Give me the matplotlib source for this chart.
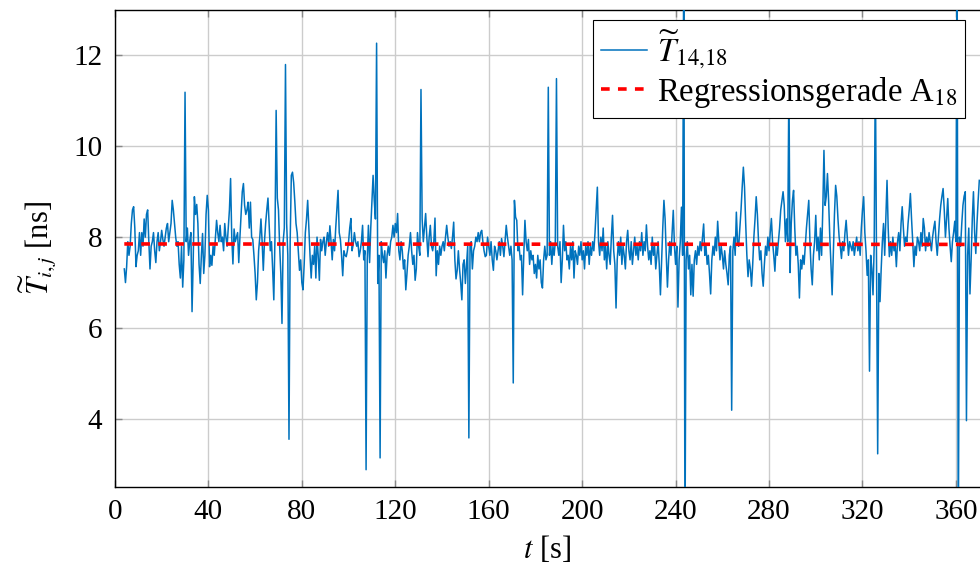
import numpy as np
import matplotlib
matplotlib.use("Agg")
import matplotlib.pyplot as plt

plt.rcParams['font.family'] = ['Liberation Serif', 'DejaVu Serif']
plt.rcParams['mathtext.fontset'] = 'stix'

# sampling of the series
t_start = 4.0
t_step = 0.5

# measured values (rows of 10 s each)
values = [
    7.3, 7.0, 7.35, 7.9, 7.6, 7.8, 8.3, 8.6, 8.67, 8.2, 7.35, 7.6, 7.7, 8.1, 7.6, 8.1, 7.8, 8.4, 8.0, 8.5,
    8.6, 7.9, 7.3, 7.8, 7.9, 8.1, 7.7, 7.44, 7.9, 8.1, 7.7, 7.9, 8.15, 7.95, 7.8, 8.0, 8.2, 8.3, 7.9, 8.1,
    8.3, 8.81, 8.6, 8.3, 8.0, 7.8, 7.9, 7.4, 7.1, 7.8, 6.9, 7.5, 11.19, 7.9, 8.2, 7.6, 7.9, 8.1, 6.36, 7.5,
    8.89, 8.5, 8.72, 8.3, 7.4, 6.98, 7.6, 8.08, 7.2, 7.6, 8.5, 8.92, 8.6, 7.35, 7.6, 7.38, 7.8, 7.6, 8.0, 8.37,
    8.1, 7.9, 8.26, 7.9, 8.0, 7.7, 8.3, 8.0, 7.8, 8.2, 8.6, 9.29, 8.0, 7.41, 8.18, 7.9, 8.0, 8.1, 7.44, 8.0,
    8.5, 9.0, 9.18, 8.7, 8.5, 8.6, 8.77, 8.2, 8.77, 8.0, 7.95, 7.6, 7.2, 6.62, 7.0, 7.7, 8.0, 8.4, 7.9, 7.27,
    7.9, 8.3, 8.6, 8.86, 8.3, 7.7, 7.9, 7.3, 6.62, 8.0, 10.79, 8.86, 8.6, 7.8, 7.2, 6.1, 7.9, 8.2, 11.8, 8.3,
    7.6, 3.55, 7.9, 9.36, 9.43, 9.2, 8.78, 8.3, 8.1, 7.7, 7.27, 7.5, 7.0, 6.84, 7.4, 8.1, 8.4, 8.81, 8.2, 7.6,
    7.1, 7.6, 7.4, 7.8, 7.1, 8.0, 7.6, 7.05, 7.95, 7.7, 7.9, 8.0, 7.6, 7.9, 8.1, 7.8, 8.25, 7.9, 7.5, 7.95,
    7.7, 8.2, 8.6, 9.03, 8.1, 7.95, 7.6, 7.15, 7.7, 7.6, 7.57, 7.7, 7.9, 8.2, 8.41, 7.7, 7.85, 8.1, 7.9, 7.8,
    7.9, 7.57, 7.7, 7.9, 8.26, 7.5, 7.7, 2.88, 7.5, 8.26, 7.44, 8.2, 8.8, 9.36, 8.8, 8.4, 12.27, 6.98, 7.6, 3.14,
    7.9, 7.6, 7.44, 7.7, 7.1, 7.6, 7.8, 7.6, 7.9, 8.0, 8.26, 8.0, 8.3, 8.1, 8.52, 7.7, 7.5, 7.9, 7.7, 7.3,
    7.5, 6.84, 7.2, 7.6, 7.8, 8.1, 7.7, 7.4, 7.6, 7.05, 7.3, 8.1, 7.8, 7.6, 11.25, 8.4, 7.9, 8.2, 8.52, 8.0,
    7.57, 8.0, 8.26, 7.8, 7.7, 7.9, 8.42, 7.15, 7.7, 7.4, 7.8, 7.6, 7.8, 7.9, 7.7, 8.0, 8.26, 8.0, 7.8, 7.9,
    7.75, 8.0, 8.33, 7.5, 7.08, 7.27, 7.7, 7.3, 7.0, 6.62, 7.4, 7.5, 6.98, 7.4, 7.8, 3.58, 7.8, 7.9, 7.3, 7.7,
    7.8, 8.0, 7.9, 8.1, 7.9, 8.1, 8.15, 7.9, 7.7, 7.57, 7.6, 8.0, 7.8, 7.6, 7.9, 7.5, 7.27, 7.8, 7.7, 7.5,
    7.7, 7.9, 7.6, 7.97, 7.8, 7.57, 7.9, 8.26, 8.0, 7.8, 7.6, 7.8, 7.5, 4.79, 8.81, 8.44, 8.37, 7.7, 7.8, 7.5,
    7.6, 6.73, 7.6, 8.37, 7.9, 7.7, 7.95, 7.4, 7.7, 7.5, 7.6, 7.2, 7.4, 7.1, 7.6, 7.3, 7.5, 7.0, 6.88, 7.5,
    7.8, 7.5, 7.6, 11.3, 7.6, 7.9, 7.4, 7.8, 7.6, 7.9, 11.49, 7.8, 7.6, 7.9, 7.0, 7.5, 8.26, 7.7, 7.9, 7.5,
    7.6, 7.3, 7.8, 7.5, 7.9, 7.1, 7.7, 7.6, 7.4, 7.8, 7.6, 7.9, 7.5, 7.7, 7.3, 7.8, 7.6, 7.9, 7.4, 7.8,
    7.6, 7.9, 7.7, 8.1, 8.6, 9.1, 7.9, 7.6, 8.0, 7.7, 8.2, 7.5, 7.8, 7.3, 7.9, 7.6, 7.4, 8.0, 8.48, 7.7,
    7.4, 6.44, 7.5, 7.9, 7.6, 8.0, 7.4, 7.8, 7.6, 7.3, 7.9, 8.15, 7.7, 7.5, 7.9, 7.4, 7.7, 8.0, 7.6, 7.8,
    7.5, 7.9, 7.7, 8.1, 7.6, 7.9, 7.7, 8.27, 7.8, 7.5, 7.7, 7.4, 8.0, 7.6, 7.8, 7.3, 7.6, 7.9, 7.4, 6.73,
    7.5, 8.2, 8.81, 8.4, 7.6, 6.9, 7.5, 7.9, 7.6, 8.1, 8.59, 7.8, 7.4, 7.8, 6.46, 7.5, 7.9, 8.66, 7.6, 14.5,
    1.0, 7.5, 7.9, 7.3, 7.6, 6.73, 7.4, 6.7, 7.5, 7.7, 7.4, 7.8, 7.6, 7.9, 7.7, 8.0, 8.29, 7.6, 7.8, 7.4,
    7.6, 7.2, 6.75, 7.5, 7.8, 7.6, 8.0, 7.7, 8.35, 7.9, 7.5, 7.8, 7.6, 7.3, 7.7, 7.4, 7.2, 6.95, 7.6, 7.8,
    4.19, 7.7, 8.0, 7.6, 8.55, 7.9, 7.8, 8.2, 8.6, 9.1, 9.54, 9.1, 8.3, 7.6, 7.13, 7.5, 7.3, 6.92, 7.4, 8.0,
    8.4, 8.89, 8.5, 7.9, 7.5, 7.7, 7.2, 6.92, 7.4, 7.8, 7.6, 8.0, 7.7, 8.1, 8.41, 7.9, 7.6, 7.25, 7.8, 7.6,
    7.9, 8.2, 8.6, 8.8, 9.0, 8.7, 7.9, 8.4, 7.9, 11.5, 7.22, 8.3, 8.8, 9.03, 8.2, 7.6, 7.8, 7.4, 6.66, 7.5,
    7.3, 7.6, 7.4, 7.8, 8.2, 8.5, 8.81, 7.9, 7.3, 6.95, 7.6, 7.9, 8.48, 7.7, 8.0, 7.5, 8.2, 7.6, 8.6, 9.91,
    8.7, 8.9, 9.4, 8.8, 8.0, 7.4, 6.73, 7.6, 8.5, 9.14, 8.9, 8.4, 8.0, 7.8, 7.53, 7.9, 7.7, 8.1, 8.37, 8.0,
    7.6, 7.9, 7.8, 7.7, 7.9, 7.6, 7.8, 8.0, 7.7, 7.9, 7.6, 8.2, 8.6, 8.89, 8.1, 7.7, 7.16, 7.5, 5.05, 7.6,
    7.3, 6.73, 7.8, 11.8, 7.5, 3.23, 7.2, 6.58, 7.3, 7.9, 8.3, 7.6, 8.4, 9.25, 8.2, 7.57, 7.9, 7.6, 8.0, 7.7,
    7.8, 7.35, 7.9, 8.1, 7.7, 8.3, 8.67, 8.2, 7.8, 8.0, 7.9, 8.3, 8.6, 8.96, 8.4, 7.9, 7.35, 7.8, 7.6, 8.0,
    7.9, 7.7, 8.1, 7.8, 8.41, 8.2, 7.7, 8.0, 7.8, 8.1, 7.9, 7.7, 8.0, 8.2, 8.35, 7.9, 7.6, 8.0, 8.4, 8.7,
    8.9, 9.07, 8.6, 8.0, 8.4, 8.85, 8.2, 7.8, 7.46, 7.9, 8.1, 8.35, 7.9, 14.5, 1.0, 8.0, 7.8, 8.3, 8.7, 8.9,
    9.0, 3.96, 7.6, 8.2, 6.75, 7.5, 8.4, 9.0, 8.1, 7.64, 8.3, 8.8, 9.25,
]

# regression line endpoints
reg_t = [4.0, 370.0]
reg_y = [7.85, 7.84]

x_ticks = [0, 40, 80, 120, 160, 200, 240, 280, 320, 360]
y_ticks = [4, 6, 8, 10, 12]

t = t_start + t_step * np.arange(len(values))

fig = plt.figure(figsize=(9.8, 5.66), dpi=100)
ax = fig.add_axes([0.1173, 0.1396, 0.8827, 0.8427])

ax.plot(t, values, color='#0072BD', lw=1.1, label=r'$\widetilde{T}_{14{,}18}$', zorder=3)
ax.plot(reg_t, reg_y, color='#FF0000', lw=2.6, dashes=(2.4, 2.3),
        label=r'Regressionsgerade A$_{18}$', zorder=4)

ax.set_xlim(0, 370.3)
ax.set_ylim(2.5, 13)
ax.set_xticks(x_ticks)
ax.set_yticks(y_ticks)
ax.grid(True, color='#cccccc', lw=1.0)
ax.set_axisbelow(True)

for s in ['left', 'bottom', 'top']:
    ax.spines[s].set_color('black')
    ax.spines[s].set_linewidth(1.0)
ax.spines['right'].set_visible(False)

ax.tick_params(direction='in', length=5, color='#888888', width=1.0,
               labelsize=21, pad=9, top=True, right=False)

ax.set_xlabel(r'$t$ [s]', fontsize=22, labelpad=6)
ax.set_ylabel(r'$\widetilde{T}_{i,j}$ [ns]', fontsize=22, labelpad=10)

leg = ax.legend(loc='upper right', bbox_to_anchor=(0.983, 0.979), borderaxespad=0,
                fontsize=23.5, fancybox=False, framealpha=1, edgecolor='black',
                handlelength=1.4, handletextpad=0.3, labelspacing=0.12,
                borderpad=0.25)
leg.get_frame().set_linewidth(0.8)

fig.savefig('out.png', dpi=100)
